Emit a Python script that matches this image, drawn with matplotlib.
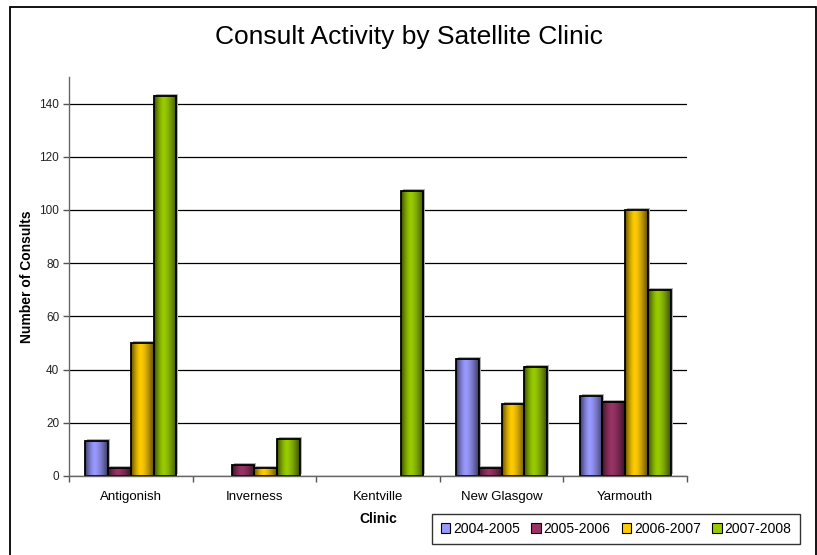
import matplotlib
matplotlib.use("Agg")
import matplotlib.pyplot as plt
import matplotlib.patches as mpatches
import matplotlib.transforms as mtrans
import numpy as np
from matplotlib.colors import to_rgb

plt.rcParams.update({
    'font.family': ['Liberation Sans', 'DejaVu Sans'],
    'font.size': 8,
})

clinics = ["Antigonish", "Inverness", "Kentville", "New Glasgow", "Yarmouth"]
years = ["2004-2005", "2005-2006", "2006-2007", "2007-2008"]
v0405 = [13, 0, 0, 44, 30]
v0506 = [3, 4, 0, 3, 28]
v0607 = [50, 3, 0, 27, 100]
v0708 = [143, 14, 107, 41, 70]
series = [v0405, v0506, v0607, v0708]
colors = ["#9999FF", "#993366", "#FFCC00", "#99CC00"]

fig = plt.figure(figsize=(8.17, 5.55), dpi=100)
ax = fig.add_axes([69 / 817, 1 - 476 / 555, 618 / 817, 399 / 555])

# outer chart frame
fig.patches.append(mpatches.Rectangle((10 / 817, -0.05), 805.5 / 817, 1.05 - 6.5 / 555,
                                      transform=fig.transFigure, fill=False,
                                      ec="black", lw=1.3, zorder=0))


def shaded(rgb, n=64):
    # horizontal cylinder-like shading: dark edges, light band left of centre
    t = np.linspace(0, 1, n)
    d = np.where(t < 0.42, (0.42 - t) / 0.42, (t - 0.42) / 0.58)
    f = 1.0 - 0.62 * d ** 1.5
    img = np.clip(np.outer(np.ones(2), f)[:, :, None] * np.array(rgb)[None, None, :], 0, 1)
    return img


width = 0.184
x = np.arange(len(clinics))
shadow = mtrans.offset_copy(ax.transData, fig=fig, x=2, y=2, units="dots")
for i, (vals, col) in enumerate(zip(series, colors)):
    rgb = to_rgb(col)
    img = shaded(rgb)
    for xi, v in zip(x, vals):
        if v <= 0:
            continue
        left = xi - 2 * width + i * width
        ax.add_patch(mpatches.Rectangle((left, 0), width, v, transform=shadow,
                                        fc="#b0b0b0", ec="none", zorder=2))
        ax.imshow(img, extent=(left, left + width, 0, v), aspect="auto",
                  origin="lower", zorder=3, interpolation="bilinear")
        ax.add_patch(mpatches.Rectangle((left, 0), width, v, fill=False,
                                        ec="black", lw=1.3, zorder=4))

ax.set_xlim(-0.5, len(clinics) - 0.5)
ax.set_ylim(0, 150)
ax.set_yticks(np.arange(0, 141, 20))
ax.set_xticks(x)
ax.set_xticklabels(clinics, fontsize=9.5)
ax.set_xticks(np.arange(-0.5, len(clinics), 1), minor=True)
ax.tick_params(axis="x", which="major", length=0, pad=11)
ax.tick_params(axis="x", which="minor", length=4, width=1, color="#555555")
ax.tick_params(axis="y", length=4, width=1, color="#555555", labelsize=8.5, pad=3,
               labelcolor="#222222")
ax.grid(axis="y", color="black", lw=0.9, zorder=1)
for s in ["top", "right"]:
    ax.spines[s].set_visible(False)
for s in ["left", "bottom"]:
    ax.spines[s].set_color("#666666")
    ax.spines[s].set_linewidth(1.0)
    ax.spines[s].set_zorder(5)

ax.set_xlabel("Clinic", fontsize=10, fontweight="bold")
ax.set_ylabel("Number of Consults", fontsize=10, fontweight="bold")
ax.xaxis.set_label_coords(0.5, (476 - 512) / 399)
ax.yaxis.set_label_coords((34 - 69) / 618, 0.5)
fig.text(0.5, 1 - 37 / 555, "Consult Activity by Satellite Clinic", ha="center",
         va="center", fontsize=19)

handles = [mpatches.Patch(fc=c, ec="black", lw=0.8, label=y) for c, y in zip(colors, years)]
leg = fig.legend(handles=handles, loc="center", bbox_to_anchor=(616 / 817, 1 - 529 / 555),
                 ncol=4, frameon=True, fancybox=False, fontsize=10,
                 handlelength=0.7, handleheight=0.7, handletextpad=0.2,
                 columnspacing=0.8, borderpad=0.6, borderaxespad=0)
leg.get_frame().set_edgecolor("black")
leg.get_frame().set_linewidth(1.0)

fig.savefig("out.png", dpi=100)
